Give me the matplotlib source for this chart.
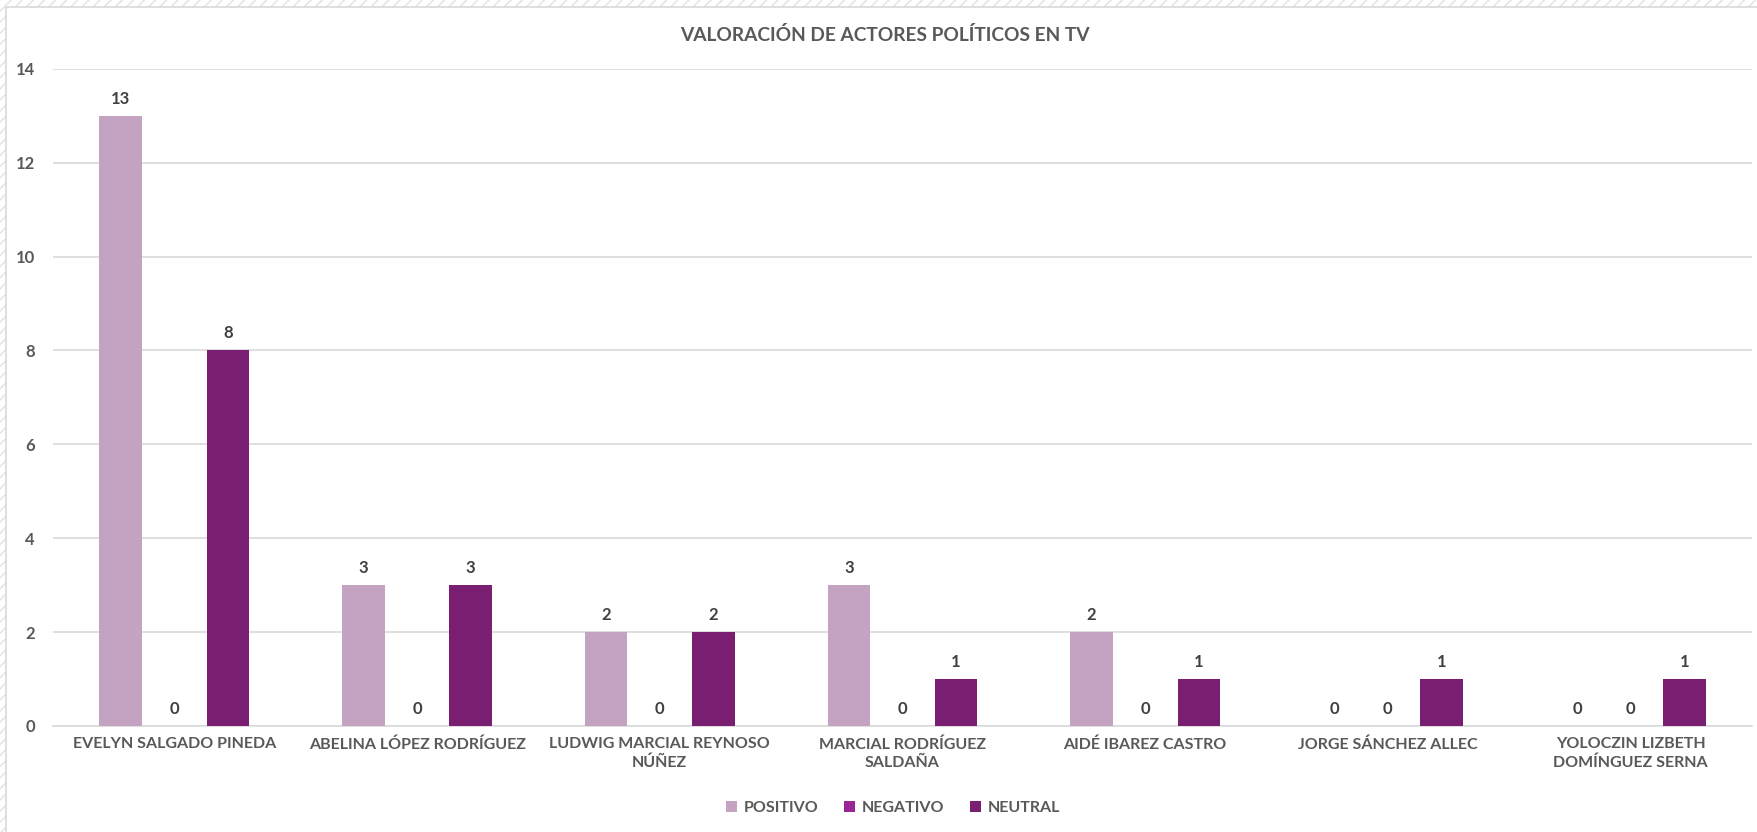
import matplotlib
matplotlib.use("Agg")
import matplotlib.pyplot as plt
import numpy as np
from matplotlib.patches import Rectangle

plt.rcParams['font.family'] = ['Lato', 'DejaVu Sans']

categories = ["EVELYN SALGADO PINEDA", "ABELINA LÓPEZ RODRÍGUEZ", "LUDWIG MARCIAL REYNOSO\nNÚÑEZ",
              "MARCIAL RODRÍGUEZ\nSALDAÑA", "AIDÉ IBAREZ CASTRO", "JORGE SÁNCHEZ ALLEC",
              "YOLOCZIN LIZBETH\nDOMÍNGUEZ SERNA"]
series_names = ["POSITIVO", "NEGATIVO", "NEUTRAL"]
positivo = [13, 3, 2, 3, 2, 0, 0]
negativo = [0, 0, 0, 0, 0, 0, 0]
neutral = [8, 3, 2, 1, 1, 1, 1]
colors = ["#C4A2C2", "#9A2596", "#7A1E72"]

W, H = 1758, 832
fig = plt.figure(figsize=(W/100, H/100), dpi=100)

# hatched border band (top and left)
bg = Rectangle((0, 0), 1, 1, transform=fig.transFigure, facecolor="white",
               edgecolor="#E2E2E2", hatch="///", linewidth=0, zorder=-10)
fig.patches.append(bg)
inner = Rectangle((6/W, -0.02), 1.02, 1.02 - 7/H, transform=fig.transFigure, facecolor="white",
                  edgecolor="#D9D9D9", linewidth=1.2, zorder=-9)
fig.patches.append(inner)

ax = fig.add_axes([53/W, 1 - 726/H, (1752-53)/W, (726-68.7)/H])
ax.set_facecolor("none")
x = np.arange(len(categories))
width = 0.175
offs = [-0.221, 0, 0.221]
data = [positivo, negativo, neutral]
for i, (vals, name) in enumerate(zip(data, series_names)):
    bars = ax.bar(x + offs[i], vals, width, color=colors[i], label=name, zorder=3)
    for b, v in zip(bars, vals):
        ax.annotate(str(v), (b.get_x() + b.get_width()/2, v), xytext=(0, 6.5),
                    textcoords="offset points", ha="center", va="bottom",
                    fontsize=12, fontweight="bold", color="#404040")

ax.set_xlim(-0.5, len(categories) - 0.5)
ax.set_ylim(0, 14)
ax.set_yticks(range(0, 15, 2))
ax.yaxis.grid(True, color="#D9D9D9", linewidth=1.2, zorder=0)
ax.set_axisbelow(True)
for s in ["top", "right", "left"]:
    ax.spines[s].set_visible(False)
ax.spines["bottom"].set_color("#D9D9D9")
ax.spines["bottom"].set_linewidth(1.2)
ax.tick_params(axis="both", length=0, colors="#595959")
ax.tick_params(axis="y", pad=13)
ax.tick_params(axis="x", pad=8)
ax.set_xticks(x)
ax.set_xticklabels(categories, fontsize=11.5, fontweight="bold", color="#595959",
                   linespacing=1.35, va="top")
for lbl in ax.get_yticklabels():
    lbl.set_fontsize(12)
    lbl.set_fontweight("bold")
    lbl.set_color("#595959")

fig.text(885/W, 1 - 35/H, "VALORACIÓN DE ACTORES POLÍTICOS EN TV", ha="center", va="center",
         fontsize=13.8, fontweight="bold", color="#595959")

leg = fig.legend(loc="center", bbox_to_anchor=(893/W, 1 - 808/H), ncol=3, frameon=False,
                 fontsize=11.5, handlelength=0.7, handleheight=0.7, handletextpad=0.4,
                 columnspacing=1.6)
for t in leg.get_texts():
    t.set_color("#595959")
    t.set_fontweight("bold")

fig.savefig("out.png", dpi=100)
